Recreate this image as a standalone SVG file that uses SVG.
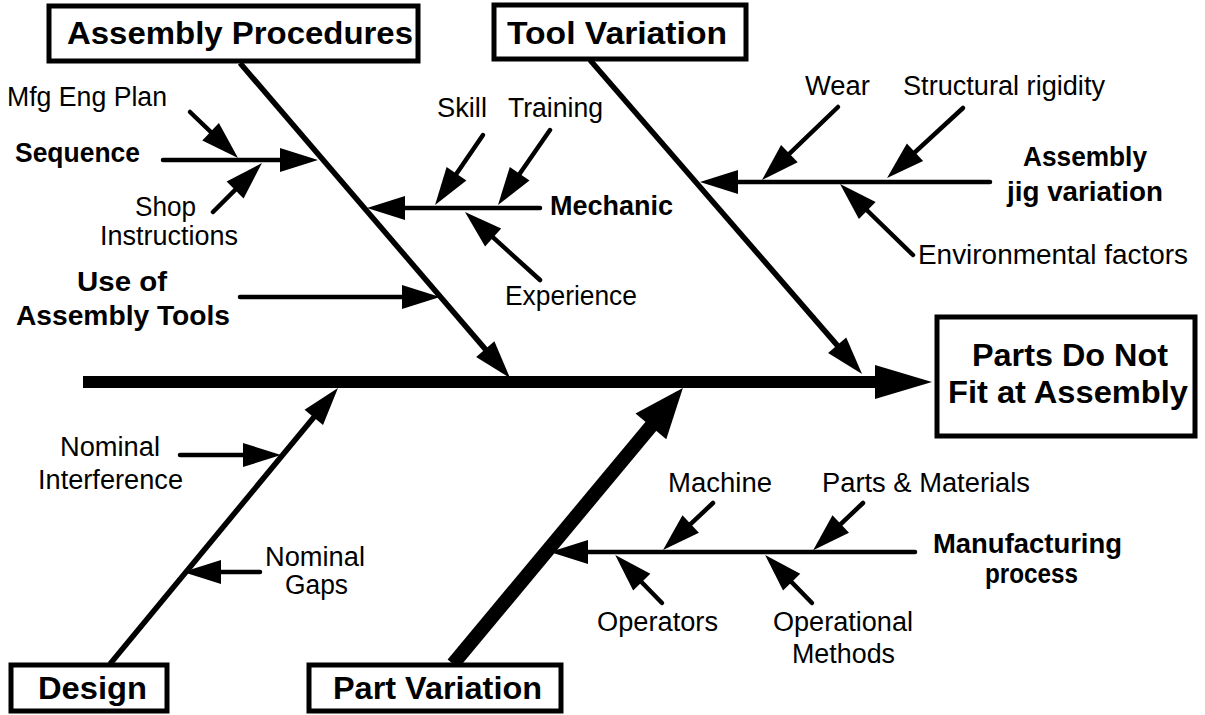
<svg xmlns="http://www.w3.org/2000/svg" width="1205" height="715" viewBox="0 0 1205 715">
<style>
.lbl{font-family:"Liberation Sans",Arial,sans-serif;font-size:27px;fill:#000}
.bl{font-family:"Liberation Sans",Arial,sans-serif;font-size:27px;font-weight:bold;fill:#000}
.ttl{font-family:"Liberation Sans",Arial,sans-serif;font-size:31px;font-weight:bold;fill:#000}
.box{fill:#fff;stroke:#000;stroke-width:5}
.bone{stroke:#000;stroke-width:5.5;fill:none;marker-end:url(#ah)}
.br{stroke:#000;stroke-width:4.5;fill:none;stroke-linecap:round;marker-end:url(#ah)}
</style>
<defs>
<marker id="ah" markerUnits="userSpaceOnUse" markerWidth="42" markerHeight="28" refX="28" refY="12" orient="auto" overflow="visible"><path d="M0,0 L38,12 L0,24 z" fill="#000"/></marker>
<marker id="ahS" markerUnits="userSpaceOnUse" markerWidth="60" markerHeight="36" refX="37" refY="17" orient="auto" overflow="visible"><path d="M0,0 L57,17 L0,34 z" fill="#000"/></marker>
<marker id="ahP" markerUnits="userSpaceOnUse" markerWidth="54" markerHeight="42" refX="30" refY="20" orient="auto" overflow="visible"><path d="M0,0 L50,20 L0,40 z" fill="#000"/></marker>
</defs>
<rect width="1205" height="715" fill="#fff"/>
<g id="connectors">
<line x1="83" y1="382" x2="912" y2="382" stroke="#000" stroke-width="12" marker-end="url(#ahS)"/>
<line class="bone" x1="240" y1="63" x2="503.5" y2="370.4"/>
<line class="bone" x1="590" y1="60" x2="855.5" y2="366.4"/>
<line class="bone" x1="110" y1="664" x2="331.6" y2="395.7"/>
<line x1="453" y1="664" x2="670.1" y2="403.3" stroke="#000" stroke-width="14" marker-end="url(#ahP)"/>
<line class="br" x1="163" y1="160" x2="308" y2="160"/>
<line class="br" x1="190" y1="112" x2="230.8" y2="151.1"/>
<line class="br" x1="213" y1="212" x2="254.9" y2="170.1"/>
<line class="br" x1="540" y1="208" x2="377" y2="208"/>
<line class="br" x1="483" y1="135" x2="440.7" y2="196.8"/>
<line class="br" x1="550" y1="130" x2="503.7" y2="196.8"/>
<line class="br" x1="540" y1="280" x2="472.4" y2="218.7"/>
<line class="br" x1="240" y1="297" x2="430" y2="297"/>
<line class="br" x1="990" y1="182" x2="710" y2="182"/>
<line class="br" x1="838" y1="107" x2="769.2" y2="173.1"/>
<line class="br" x1="963" y1="108" x2="894.4" y2="171.2"/>
<line class="br" x1="913" y1="255" x2="847.2" y2="191"/>
<line class="br" x1="180" y1="455" x2="271" y2="455"/>
<line class="br" x1="260" y1="572" x2="193" y2="572"/>
<line class="br" x1="915" y1="552" x2="560" y2="552"/>
<line class="br" x1="713" y1="503" x2="670.3" y2="543.2"/>
<line class="br" x1="863" y1="503" x2="820.4" y2="543.3"/>
<line class="br" x1="662" y1="603" x2="622.2" y2="562.2"/>
<line class="br" x1="812" y1="603" x2="772.1" y2="562.1"/>
</g>
<g id="assembly-procedures">
<rect class="box" x="49" y="6" width="369" height="55"/>
<text class="ttl" x="67" y="44" textLength="346" lengthAdjust="spacingAndGlyphs">Assembly Procedures</text>
</g>
<g id="tool-variation">
<rect class="box" x="494" y="5" width="252" height="54"/>
<text class="ttl" x="507" y="44" textLength="220" lengthAdjust="spacingAndGlyphs">Tool Variation</text>
</g>
<g id="effect">
<rect class="box" x="937" y="317" width="258" height="119"/>
<text class="ttl" x="972" y="366" textLength="196" lengthAdjust="spacingAndGlyphs">Parts Do Not</text>
<text class="ttl" x="948" y="403" textLength="240" lengthAdjust="spacingAndGlyphs">Fit at Assembly</text>
</g>
<g id="design">
<rect class="box" x="11" y="665" width="156" height="46"/>
<text class="ttl" x="38" y="699" textLength="109" lengthAdjust="spacingAndGlyphs">Design</text>
</g>
<g id="part-variation">
<rect class="box" x="309" y="665" width="252" height="46"/>
<text class="ttl" x="333" y="699" textLength="209" lengthAdjust="spacingAndGlyphs">Part Variation</text>
</g>
<g id="sequence">
<text class="bl" x="15" y="162" textLength="125" lengthAdjust="spacingAndGlyphs">Sequence</text>
</g>
<g id="mfg-eng-plan">
<text class="lbl" x="7" y="106" textLength="160" lengthAdjust="spacingAndGlyphs">Mfg Eng Plan</text>
</g>
<g id="shop-instructions">
<text class="lbl" x="135" y="216" textLength="61" lengthAdjust="spacingAndGlyphs">Shop</text>
<text class="lbl" x="100" y="245" textLength="138" lengthAdjust="spacingAndGlyphs">Instructions</text>
</g>
<g id="mechanic">
<text class="bl" x="550" y="215" textLength="123" lengthAdjust="spacingAndGlyphs">Mechanic</text>
</g>
<g id="skill">
<text class="lbl" x="437" y="117" textLength="50" lengthAdjust="spacingAndGlyphs">Skill</text>
</g>
<g id="training">
<text class="lbl" x="508" y="117" textLength="95" lengthAdjust="spacingAndGlyphs">Training</text>
</g>
<g id="experience">
<text class="lbl" x="505" y="305" textLength="132" lengthAdjust="spacingAndGlyphs">Experience</text>
</g>
<g id="use-of-assembly-tools">
<text class="bl" x="77" y="291" textLength="90" lengthAdjust="spacingAndGlyphs">Use of</text>
<text class="bl" x="16" y="325" textLength="214" lengthAdjust="spacingAndGlyphs">Assembly Tools</text>
</g>
<g id="assembly-jig-variation">
<text class="bl" x="1023" y="166" textLength="124" lengthAdjust="spacingAndGlyphs">Assembly</text>
<text class="bl" x="1007" y="201" textLength="156" lengthAdjust="spacingAndGlyphs">jig variation</text>
</g>
<g id="wear">
<text class="lbl" x="805" y="95" textLength="65" lengthAdjust="spacingAndGlyphs">Wear</text>
</g>
<g id="structural-rigidity">
<text class="lbl" x="903" y="95" textLength="202" lengthAdjust="spacingAndGlyphs">Structural rigidity</text>
</g>
<g id="environmental-factors">
<text class="lbl" x="918" y="264" textLength="270" lengthAdjust="spacingAndGlyphs">Environmental factors</text>
</g>
<g id="nominal-interference">
<text class="lbl" x="60" y="456" textLength="100" lengthAdjust="spacingAndGlyphs">Nominal</text>
<text class="lbl" x="38" y="489" textLength="145" lengthAdjust="spacingAndGlyphs">Interference</text>
</g>
<g id="nominal-gaps">
<text class="lbl" x="265" y="566" textLength="100" lengthAdjust="spacingAndGlyphs">Nominal</text>
<text class="lbl" x="285" y="594" textLength="63" lengthAdjust="spacingAndGlyphs">Gaps</text>
</g>
<g id="manufacturing-process">
<text class="bl" x="933" y="553" textLength="189" lengthAdjust="spacingAndGlyphs">Manufacturing</text>
<text class="bl" x="985" y="583" textLength="93" lengthAdjust="spacingAndGlyphs">process</text>
</g>
<g id="machine">
<text class="lbl" x="668" y="492" textLength="104" lengthAdjust="spacingAndGlyphs">Machine</text>
</g>
<g id="parts-materials">
<text class="lbl" x="822" y="492" textLength="208" lengthAdjust="spacingAndGlyphs">Parts &amp; Materials</text>
</g>
<g id="operators">
<text class="lbl" x="597" y="631" textLength="121" lengthAdjust="spacingAndGlyphs">Operators</text>
</g>
<g id="operational-methods">
<text class="lbl" x="773" y="631" textLength="140" lengthAdjust="spacingAndGlyphs">Operational</text>
<text class="lbl" x="792" y="663" textLength="103" lengthAdjust="spacingAndGlyphs">Methods</text>
</g>
</svg>
